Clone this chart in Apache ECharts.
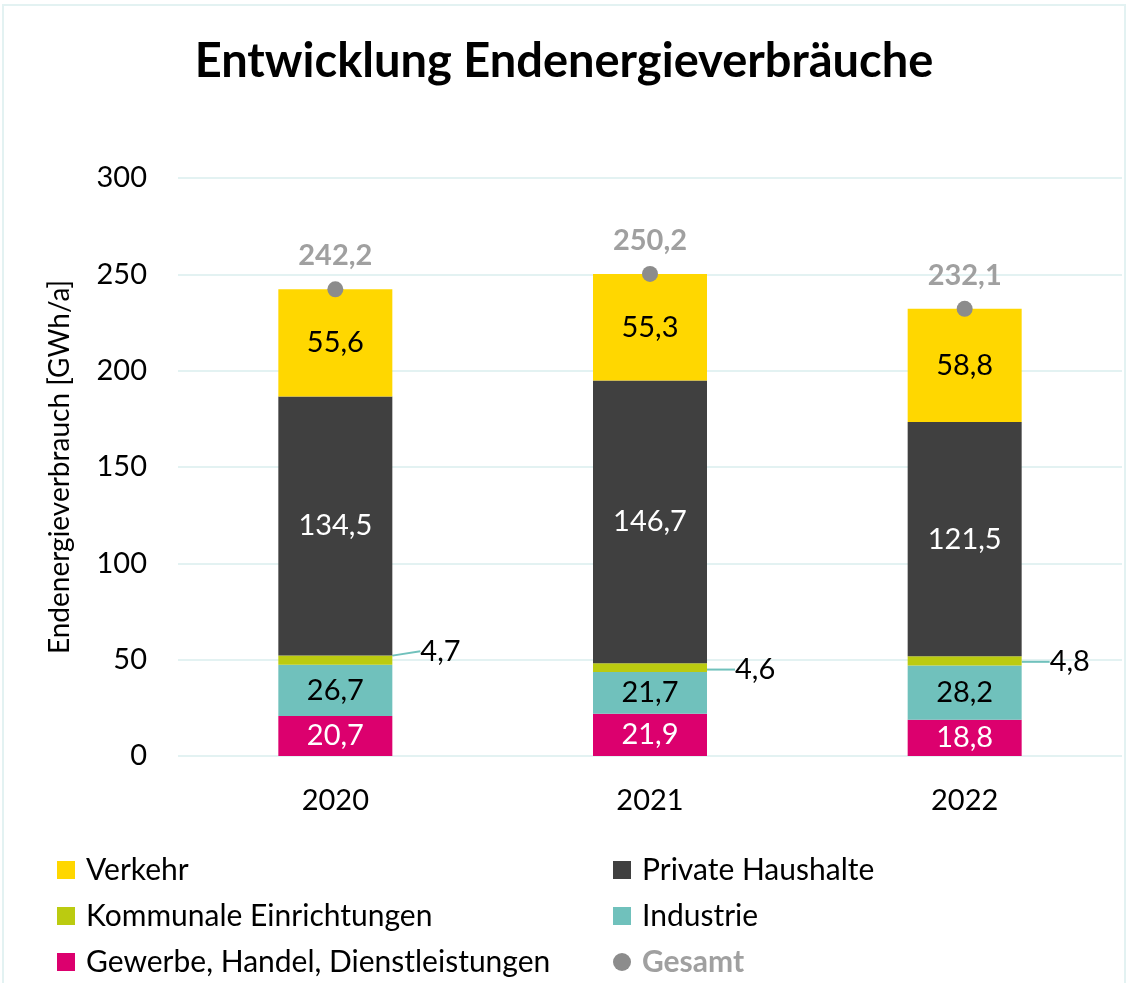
<!DOCTYPE html>
<html>
<head>
<meta charset="utf-8">
<script src="https://cdn.jsdelivr.net/npm/echarts@6/dist/echarts.min.js"></script>
<style>html,body{margin:0;padding:0;background:#fff}#c{width:1128px;height:983px}</style>
</head>
<body>
<div id="c"></div>
<script>
const categories = ['2020', '2021', '2022'];
const gewerbe = [20.7, 21.9, 18.8];
const industrie = [26.7, 21.7, 28.2];
const kommunal = [4.7, 4.6, 4.8];
const privat = [134.5, 146.7, 121.5];
const verkehr = [55.6, 55.3, 58.8];
const gesamt = [242.2, 250.2, 232.1];
const yTicks = [0, 50, 100, 150, 200, 250, 300];

const FONT = 'Lato, "Open Sans", sans-serif';
const FS = 29;
const fmt = v => (typeof v === 'number' ? v : v.value).toFixed(1).replace('.', ',');
const chart = echarts.init(document.getElementById('c'));

function barSeries(name, data, color, labelColor) {
  return {
    name, type: 'bar', stack: 'total', data, barWidth: 114,
    itemStyle: { color },
    label: { show: true, position: 'inside', color: labelColor, fontSize: FS, fontFamily: FONT,
      formatter: p => fmt(p.value) }
  };
}

function legendItem(name, left, centerY, extra) {
  return Object.assign({
    left, top: centerY - 9, itemWidth: 18, itemHeight: 18, padding: 0, icon: 'rect',
    textStyle: { fontSize: 30, color: '#000', fontFamily: FONT, padding: [0, 0, 0, 6] },
    data: [name]
  }, extra || {});
}

const kommLabelDy = [-9, 2, 1];

chart.setOption({
  animation: false,
  textStyle: { fontFamily: FONT },
  title: {
    text: 'Entwicklung Endenergieverbräuche', left: 'center', top: 33,
    textStyle: { fontSize: 47, fontWeight: 'bold', color: '#000', fontFamily: FONT }
  },
  graphic: [{ type: 'rect', shape: { x: 3, y: 5, width: 1122, height: 990 }, style: { fill: 'none', stroke: '#e3f2f2', lineWidth: 2 } }],
  grid: { left: 178, right: 6, top: 178, bottom: 227 },
  legend: [
    legendItem('Verkehr', 57, 864),
    legendItem('Kommunale Einrichtungen', 57, 910),
    legendItem('Gewerbe, Handel, Dienstleistungen', 57, 956),
    legendItem('Private Haushalte', 613, 864),
    legendItem('Industrie', 613, 910),
    legendItem('Gesamt', 613, 956, {
      data: [{ name: 'Gesamt', icon: 'circle', textStyle: { color: '#a0a0a0', fontWeight: 'bold' } }] })
  ],
  xAxis: {
    type: 'category', data: categories,
    axisLine: { show: false }, axisTick: { show: false },
    axisLabel: { fontSize: FS, color: '#000', margin: 30, fontFamily: FONT }
  },
  yAxis: {
    type: 'value', min: yTicks[0], max: yTicks[yTicks.length - 1], interval: 50,
    name: 'Endenergieverbrauch [GWh/a]', nameLocation: 'middle', nameGap: 104,
    nameTextStyle: { fontSize: 28, color: '#000', fontFamily: FONT },
    axisLabel: { fontSize: FS, color: '#000', margin: 31, fontFamily: FONT },
    splitLine: { lineStyle: { color: '#e3f2f2', width: 2 } },
    axisLine: { show: false }, axisTick: { show: false }
  },
  series: [
    barSeries('Gewerbe, Handel, Dienstleistungen', gewerbe, '#DC006E', '#fff'),
    barSeries('Industrie', industrie, '#70C1BC', '#000'),
    Object.assign(barSeries('Kommunale Einrichtungen', kommunal, '#BBCB10', '#000'), {
      label: { show: true, position: 'right', distance: 28, color: '#000', fontSize: FS, fontFamily: FONT,
        formatter: p => fmt(p.value) },
      labelLine: { show: true, lineStyle: { color: '#70C1BC', width: 2 } },
      labelLayout: p => ({ dy: kommLabelDy[p.dataIndex] })
    }),
    barSeries('Private Haushalte', privat, '#404040', '#fff'),
    barSeries('Verkehr', verkehr, '#FFD700', '#000'),
    {
      name: 'Gesamt', type: 'line', data: gesamt, symbol: 'circle', symbolSize: 16,
      itemStyle: { color: '#8c8c8c' }, lineStyle: { opacity: 0 },
      label: { show: true, position: 'top', distance: 11, color: '#a0a0a0', fontWeight: 'bold', fontSize: FS,
        fontFamily: FONT, formatter: p => fmt(p.value) },
      z: 5
    }
  ]
});
</script>
</body>
</html>
